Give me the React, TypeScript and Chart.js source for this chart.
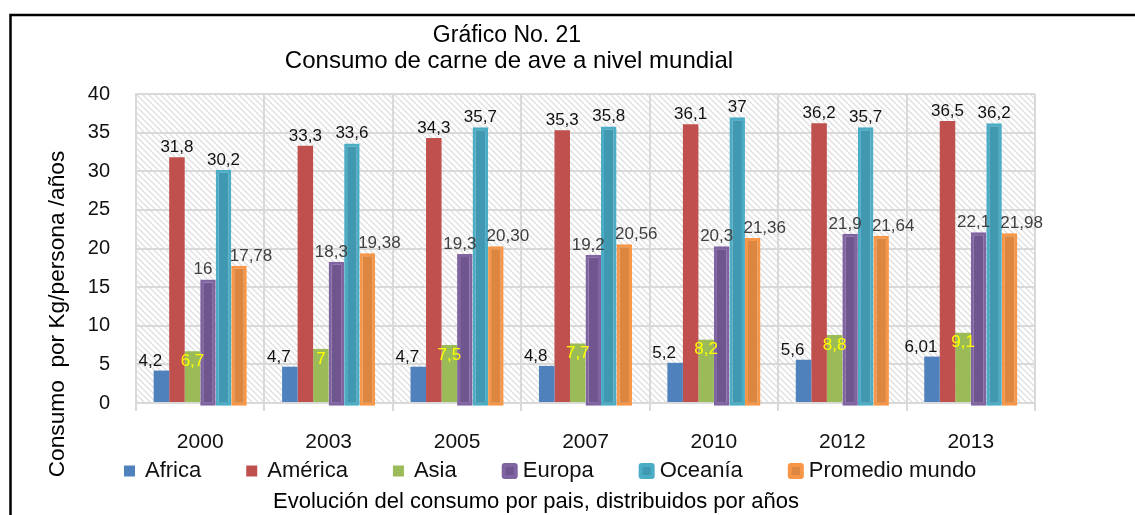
import React, { useEffect, useRef } from "react";
import { Chart, registerables } from "chart.js";

Chart.register(...registerables);

// ---- data ----
const years = ["2000", "2003", "2005", "2007", "2010", "2012", "2013"];
const africa = [4.2, 4.7, 4.7, 4.8, 5.2, 5.6, 6.01];
const america = [31.8, 33.3, 34.3, 35.3, 36.1, 36.2, 36.5];
const asia = [6.7, 7, 7.5, 7.7, 8.2, 8.8, 9.1];
const europa = [16, 18.3, 19.3, 19.2, 20.3, 21.9, 22.1];
const oceania = [30.2, 33.6, 35.7, 35.8, 37, 35.7, 36.2];
const promedio = [17.78, 19.38, 20.3, 20.56, 21.36, 21.64, 21.98];
const seriesNames = ["Africa", "América", "Asia", "Europa", "Oceanía", "Promedio mundo"];
const titleLines = ["Gráfico No. 21", "Consumo de carne de ave a nivel mundial"];
const yTitle = "Consumo  por Kg/persona /años";
const xTitle = "Evolución del consumo por pais, distribuidos por años";
const yMin = 0;
const yMax = 40;
const yStep = 5;

const FONT = "'Liberation Sans', Arial, sans-serif";

const fills = ["#4f81bd", "#c0504d", "#9bbb59", "#70568f", "#4198b1", "#dd8640"];
const borders = ["#4f81bd", "#c0504d", "#9bbb59", "#8064a2", "#4bacc6", "#f79646"];
const borderWidths = [0, 0, 0, 3, 3, 3];
const labelColors = ["#111111", "#111111", "#ffff00", "#404040", "#111111", "#404040"];
const labelDx = [-11, 0, 0, -5, 0, 12];
const decimals = [-1, -1, -1, -1, -1, 2];

function fmt(v: number, d: number) {
  const s = d >= 0 ? v.toFixed(d) : String(v);
  return s.replace(".", ",");
}

const decorPlugin = {
  id: "decor",
  beforeDraw(chart: any) {
    const { ctx, chartArea } = chart;
    ctx.save();
    ctx.fillStyle = "#ffffff";
    ctx.fillRect(0, 0, chart.width, chart.height);
    // hatch pattern
    const pc = document.createElement("canvas");
    pc.width = 6;
    pc.height = 6;
    const p = pc.getContext("2d")!;
    p.fillStyle = "#ffffff";
    p.fillRect(0, 0, 6, 6);
    p.strokeStyle = "#e0e0e0";
    p.lineWidth = 1.4;
    p.beginPath();
    p.moveTo(-1, -1);
    p.lineTo(7, 7);
    p.moveTo(-7, -1);
    p.lineTo(1, 7);
    p.moveTo(5, -1);
    p.lineTo(13, 7);
    p.stroke();
    const pat = ctx.createPattern(pc, "repeat");
    ctx.fillStyle = pat;
    ctx.fillRect(chartArea.left, chartArea.top, chartArea.right - chartArea.left, chartArea.bottom - chartArea.top);
    ctx.restore();
  },
  afterDraw(chart: any) {
    const { ctx } = chart;
    ctx.save();
    // frame
    ctx.strokeStyle = "#000000";
    ctx.lineWidth = 2.5;
    ctx.strokeRect(10.5, 15, 1400, 800);
    // title
    ctx.fillStyle = "#000000";
    ctx.textAlign = "center";
    ctx.textBaseline = "middle";
    ctx.font = `23px ${FONT}`;
    ctx.fillText(titleLines[0], 507, 36);
    ctx.font = `24px ${FONT}`;
    ctx.fillText(titleLines[1], 509, 61);
    // x title
    ctx.font = `22px ${FONT}`;
    ctx.fillText(xTitle, 536, 502);
    // y title
    ctx.save();
    ctx.font = `22.7px ${FONT}`;
    ctx.translate(58, 314);
    ctx.rotate(-Math.PI / 2);
    ctx.fillText(yTitle, 0, 0);
    ctx.restore();
    // legend
    ctx.font = `22px ${FONT}`;
    ctx.textAlign = "left";
    let x = 124;
    const cy = 471;
    chart.data.datasets.forEach((ds: any, i: number) => {
      if (borderWidths[i] > 0) {
        const s = 16;
        ctx.fillStyle = borders[i];
        ctx.beginPath();
        (ctx as any).roundRect(x, cy - s / 2, s, s, 3);
        ctx.fill();
        ctx.fillStyle = fills[i];
        ctx.fillRect(x + 4, cy - s / 2 + 4, s - 8, s - 8);
      } else {
        const s = 11;
        ctx.fillStyle = fills[i];
        ctx.fillRect(x, cy - s / 2, s, s);
      }
      ctx.fillStyle = "#111111";
      const tx = x + 21;
      ctx.fillText(ds.label, tx, cy);
      x = tx + ctx.measureText(ds.label).width + 45;
    });
    ctx.restore();
  },
  afterDatasetsDraw(chart: any) {
    const { ctx } = chart;
    ctx.save();
    ctx.font = `17px ${FONT}`;
    ctx.textAlign = "center";
    chart.data.datasets.forEach((ds: any, i: number) => {
      const meta = chart.getDatasetMeta(i);
      meta.data.forEach((bar: any, j: number) => {
        const v = ds.data[j];
        const txt = fmt(v, decimals[i]);
        ctx.fillStyle = labelColors[i];
        if (i === 2) {
          ctx.textBaseline = "middle";
          ctx.fillText(txt, bar.x + labelDx[i], bar.y + 10);
        } else {
          ctx.textBaseline = "alphabetic";
          ctx.fillText(txt, bar.x + labelDx[i], bar.y - 5);
        }
      });
    });
    ctx.restore();
  },
};

export default function App() {
  const ref = useRef<HTMLCanvasElement | null>(null);
  useEffect(() => {
    if (!ref.current) return;
    const series = [africa, america, asia, europa, oceania, promedio];
    const chart = new Chart(ref.current, {
      type: "bar",
      data: {
        labels: years,
        datasets: series.map((d, i) => ({
          label: seriesNames[i],
          data: d,
          backgroundColor: fills[i],
          borderColor: borders[i],
          borderWidth: borderWidths[i],
          borderSkipped: false,
          categoryPercentage: 0.725,
          barPercentage: 1,
          ...(borderWidths[i] > 0 ? { base: -0.35, clip: false } : {}),
        })),
      },
      options: {
        responsive: false,
        animation: false,
        layout: { padding: { top: 94, right: 100, left: 0, bottom: 0 } },
        plugins: {
          legend: { display: false },
          title: { display: false },
          tooltip: { enabled: false },
        },
        scales: {
          x: {
            grid: { offset: true, color: "#d9d9d9", lineWidth: 2, tickLength: 8, drawTicks: true },
            border: { display: true, color: "#d9d9d9", width: 2 },
            ticks: { color: "#111111", font: { family: FONT, size: 21 }, padding: 19 },
            afterFit: (s: any) => {
              s.height = 112;
            },
          },
          y: {
            min: yMin,
            max: yMax,
            ticks: { stepSize: yStep, color: "#111111", font: { family: FONT, size: 20 }, padding: 26 },
            grid: { color: "#d9d9d9", lineWidth: 2, drawTicks: false },
            border: { display: true, color: "#d9d9d9", width: 2 },
            afterFit: (s: any) => {
              s.width = 136;
            },
          },
        },
      },
      plugins: [decorPlugin],
    });
    return () => chart.destroy();
  }, []);
  return (
    <div style={{ position: "fixed", left: 0, top: 0, width: 1135, height: 515, background: "#fff" }}>
      <canvas ref={ref} width={1135} height={515} style={{ display: "block" }} />
    </div>
  );
}
